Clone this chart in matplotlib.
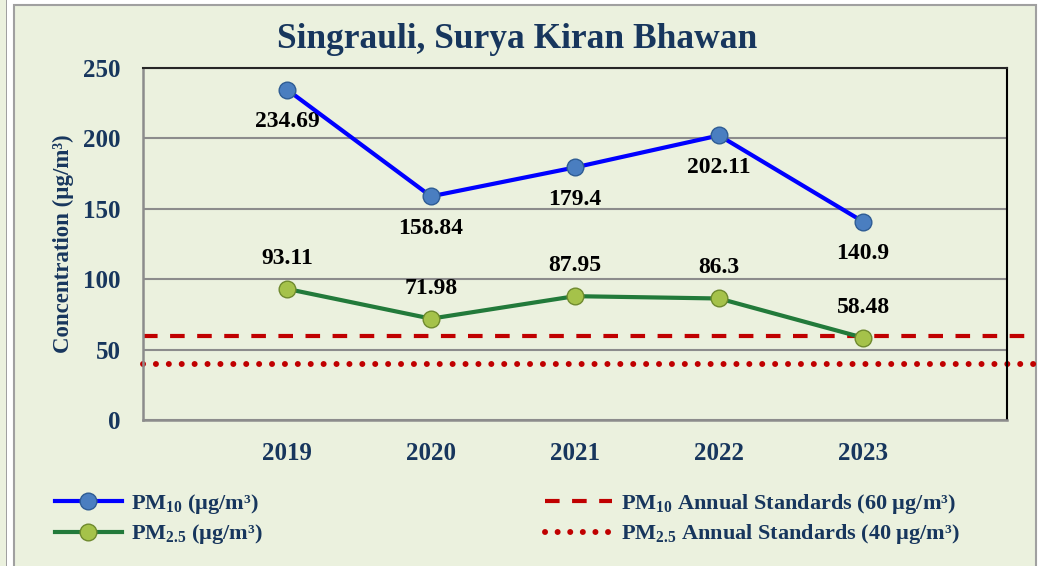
import numpy as np
import matplotlib
matplotlib.use("Agg")
import matplotlib.pyplot as plt
from matplotlib.patches import Rectangle
from matplotlib.lines import Line2D

# data
years = ["2019", "2020", "2021", "2022", "2023"]
pm10 = [234.69, 158.84, 179.4, 202.11, 140.9]
pm25 = [93.11, 71.98, 87.95, 86.3, 58.48]
pm10_std = 60
pm25_std = 40
yticks = [0, 50, 100, 150, 200, 250]

bg = "#EBF1DE"
navy = "#17365D"

plt.rcParams["font.family"] = ["Liberation Serif", "DejaVu Serif"]
plt.rcParams["font.weight"] = "bold"
plt.rcParams["mathtext.default"] = "regular"

fig = plt.figure(figsize=(10.4, 5.66), dpi=100)
fig.patch.set_facecolor("white")

# outer frames (behind the axes)
fig.patches.append(Rectangle((0, 0), 6 / 1040, 1, transform=fig.transFigure,
                             facecolor=bg, edgecolor="none", zorder=-5))
fig.patches.append(Rectangle((6 / 1040, -0.01), 1 / 1040, 1.02, transform=fig.transFigure,
                             facecolor="#A0A0A0", edgecolor="none", zorder=-5))
fig.patches.append(Rectangle((14 / 1040, -0.01), 1022 / 1040, 1 - 5 / 566 + 0.01,
                             transform=fig.transFigure, facecolor=bg,
                             edgecolor="#A0A0A0", linewidth=1.5, zorder=-5))

ax = fig.add_axes([143 / 1040, 1 - 420 / 566, 864 / 1040, 352 / 566])
ax.set_facecolor(bg)
x = np.arange(1, len(years) + 1)

ax.set_xlim(0, 6)
ax.set_ylim(0, 250)
ax.set_yticks(yticks)
ax.set_xticks(x)
ax.set_xticklabels(years)
ax.tick_params(length=0, labelsize=18, labelcolor=navy)
ax.tick_params(axis="x", pad=16)
ax.tick_params(axis="y", pad=16)
ax.grid(axis="y", color="#8C8C8C", linewidth=1.5)
ax.set_axisbelow(True)
for s in ["left", "bottom"]:
    ax.spines[s].set_color("#8C8C8C")
    ax.spines[s].set_linewidth(1.8)
ax.spines["top"].set_color("#262626")
ax.spines["top"].set_linewidth(1.5)
ax.spines["right"].set_color("black")
ax.spines["right"].set_linewidth(1.5)

# standards lines run out to the frame edge
x_end = (1035 - 143) / 144
ax.plot([0, x_end], [pm10_std, pm10_std], color="#C00000", linewidth=3,
        dashes=(3.5, 3), clip_on=False, zorder=2)
ax.plot([0, x_end], [pm25_std, pm25_std], color="#C00000", linewidth=4.3,
        dashes=(0.01, 2.15), dash_capstyle="round", clip_on=False, zorder=2)

ax.plot(x, pm10, color="#0000FF", linewidth=3, marker="o", markersize=12,
        markerfacecolor="#4A7EC0", markeredgecolor="#2E5C94", markeredgewidth=1, zorder=4)
ax.plot(x, pm25, color="#227A3A", linewidth=3, marker="o", markersize=12,
        markerfacecolor="#A5C24A", markeredgecolor="#6F8A2E", markeredgewidth=1, zorder=4)

for xi, v in zip(x, pm10):
    ax.annotate(f"{v:g}", (xi, v), xytext=(0, -23), textcoords="offset points",
                ha="center", va="center", fontsize=17, color="black", fontweight="bold")
for xi, v in zip(x, pm25):
    ax.annotate(f"{v:g}", (xi, v), xytext=(0, 22), textcoords="offset points",
                ha="center", va="center", fontsize=17, color="black", fontweight="bold")

ax.set_ylabel("Concentration (µg/m³)", fontsize=16.5, color=navy, labelpad=7,
              fontweight="bold")

fig.text(517 / 1040, 1 - 40 / 566, "Singrauli, Surya Kiran Bhawan", ha="center",
         va="center", fontsize=25.5, color=navy, fontweight="bold")

h1 = Line2D([], [], color="#0000FF", linewidth=3, marker="o", markersize=12,
            markerfacecolor="#4A7EC0", markeredgecolor="#2E5C94")
h2 = Line2D([], [], color="#227A3A", linewidth=3, marker="o", markersize=12,
            markerfacecolor="#A5C24A", markeredgecolor="#6F8A2E")
h3 = Line2D([], [], color="#C00000", linewidth=3, dashes=(3.5, 3))
h4 = Line2D([], [], color="#C00000", linewidth=4.3, dashes=(0.01, 2.1),
            dash_capstyle="round")

leg_kw = dict(frameon=False, fontsize=16, labelcolor=navy, handlelength=3.0,
              handletextpad=0.4, labelspacing=0.3, borderpad=0, borderaxespad=0)
leg1 = fig.legend([h1, h2], ["PM$_{10}$ (µg/m³)", "PM$_{2.5}$ (µg/m³)"],
                  loc="center left", bbox_to_anchor=(55 / 1040, 1 - 519 / 566), **leg_kw)
leg2 = fig.legend([h3, h4], ["PM$_{10}$ Annual Standards (60 µg/m³)",
                             "PM$_{2.5}$ Annual Standards (40 µg/m³)"],
                  loc="center left", bbox_to_anchor=(545 / 1040, 1 - 519 / 566), **leg_kw)

fig.savefig("out.png", dpi=100, facecolor=fig.get_facecolor())
